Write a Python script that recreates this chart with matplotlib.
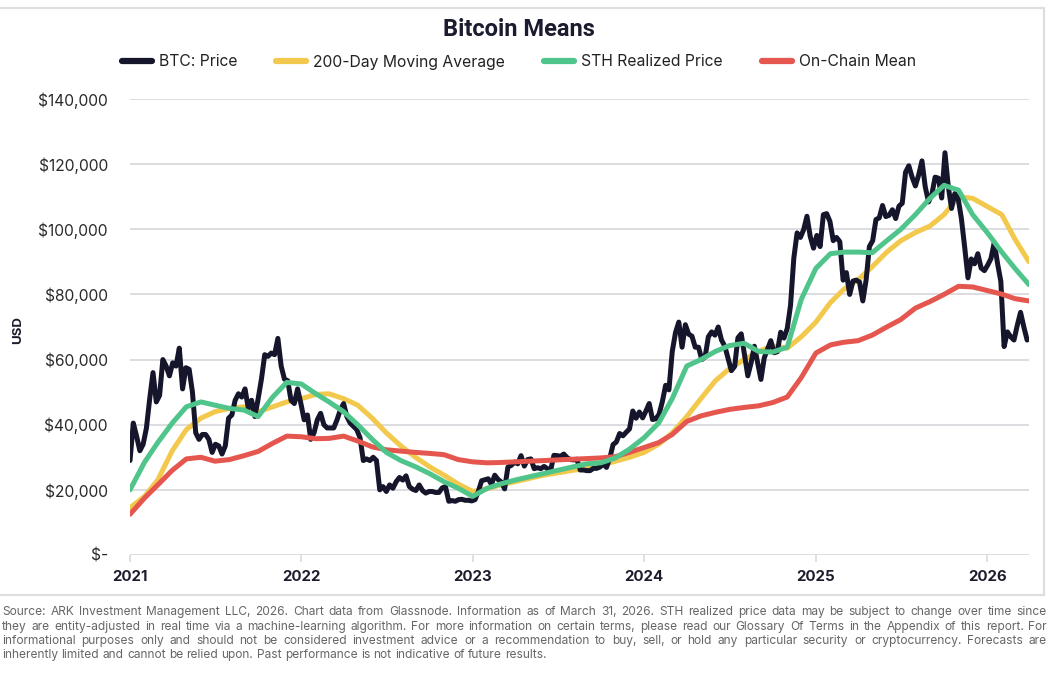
import numpy as np
import pandas as pd
import matplotlib
matplotlib.use("Agg")
from matplotlib import pyplot as plt
from matplotlib.lines import Line2D
from matplotlib.patches import Rectangle
import matplotlib.dates as mdates
import matplotlib.ticker as mticker

# BTC price, thousands USD, one value per week (Fridays from 2021-01-01)
btc_price = [
    # 2021
    29.0, 40.5, 36.5, 32.0, 34.0,
    39.0, 48.0, 56.0, 47.0,
    49.0, 60.0, 58.0, 55.0,
    59.0, 58.0, 63.5, 51.0, 57.5,
    57.0, 50.0, 37.5, 35.5,
    37.0, 37.0, 35.5, 31.5,
    34.0, 33.5, 31.0, 33.5, 42.0,
    43.0, 47.5, 49.5, 48.5,
    51.0, 45.0, 47.5, 42.5,
    48.0, 54.0, 61.5, 61.0, 62.0,
    61.5, 66.5, 58.0, 54.0,
    53.5, 47.5, 46.5, 51.0, 46.5,
    # 2022
    41.5, 43.0, 35.5, 37.5,
    41.5, 43.5, 40.0, 39.0,
    39.0, 39.0, 41.5, 44.5,
    46.5, 42.5, 40.5, 39.5, 38.5,
    36.0, 29.0, 29.5, 29.0,
    30.0, 29.0, 20.0, 21.0,
    19.5, 21.5, 20.5, 22.5, 23.8,
    23.0, 24.3, 21.0, 20.2,
    19.8, 21.5, 19.8, 19.0, 19.5,
    19.5, 19.2, 19.2, 20.6,
    21.0, 16.5, 16.7, 16.5,
    17.0, 17.1, 16.8, 16.8, 16.6,
    # 2023
    17.0, 19.5, 22.8, 23.1,
    23.4, 21.7, 24.5, 23.2,
    22.4, 20.3, 27.0, 27.5, 28.5,
    28.0, 30.5, 27.3, 29.3,
    29.5, 26.5, 26.8, 26.5,
    27.2, 26.5, 26.0, 30.6, 30.5,
    30.3, 31.0, 29.9, 29.3,
    29.2, 29.4, 26.1, 26.1,
    25.9, 25.9, 26.6, 26.6, 27.0,
    27.9, 26.9, 29.7, 33.9,
    34.7, 37.3, 36.6, 37.7,
    38.7, 44.2, 42.0, 43.9, 42.1,
    # 2024
    44.2, 46.5, 41.6, 41.8,
    43.2, 47.1, 52.1, 50.7,
    62.4, 68.3, 71.5, 63.8, 70.7,
    67.8, 67.2, 63.8, 63.8,
    60.0, 60.8, 67.0, 68.5, 67.5,
    70.0, 66.0, 64.1, 60.3,
    56.6, 57.9, 66.7, 67.9,
    61.4, 55.0, 59.0, 64.1, 59.0,
    53.9, 60.5, 63.2, 65.8,
    62.1, 62.4, 68.4, 66.6,
    69.5, 76.6, 91.1, 98.9, 97.5,
    99.9, 104.0, 97.8, 94.2,
    # 2025
    98.1, 94.7, 104.5, 104.8, 102.4,
    96.5, 97.5, 96.2, 84.4,
    86.7, 80.0, 84.1, 84.4,
    83.8, 78.0, 84.4, 94.7,
    96.5, 103.0, 103.5, 107.3, 103.9,
    104.3, 106.0, 103.3, 107.1,
    108.0, 117.5, 119.5, 116.0,
    113.3, 116.7, 121.0, 113.0, 108.4,
    110.7, 116.0, 115.7, 109.6,
    123.5, 113.2, 106.4, 111.0, 109.5,
    103.3, 94.5, 85.1, 90.9,
    89.4, 92.5, 88.1, 87.3,
    # 2026
    89.0, 91.0, 96.0, 89.5, 84.0,
    64.0, 68.5, 67.0, 66.0,
    70.5, 74.5, 70.0, 66.0,
]
price_dates = pd.date_range("2021-01-01", periods=len(btc_price), freq="7D")

# smoother series, thousands USD, first day of each month (last point 2026-03-31)
month_dates = list(pd.date_range("2021-01-01", "2026-03-01", freq="MS")) + [pd.Timestamp("2026-03-31")]

ma_200d = [
    14.5, 18.0, 23.0, 32.0, 38.5, 42.0, 44.0, 45.0, 45.5, 44.0, 45.5, 47.0,
    48.0, 49.3, 49.5, 48.0, 46.0, 42.0, 37.5, 33.5, 30.0, 27.1, 24.5, 21.8,
    19.5, 20.3, 21.5, 22.5, 23.5, 24.5, 25.2, 26.0, 26.5, 27.5, 28.8, 30.0,
    31.5, 34.0, 37.5, 42.5, 48.0, 53.5, 57.2, 60.0, 62.5, 64.2, 63.5, 67.0,
    71.5, 77.5, 81.5, 84.5, 88.5, 93.0, 96.5, 99.0, 101.0, 104.5, 110.0, 109.5,
    107.0, 104.5, 97.0, 90.0,
]

sth_realized = [
    20.0, 28.5, 34.5, 40.5, 45.5, 47.0, 46.0, 45.0, 44.5, 42.5, 48.5, 53.0,
    52.5, 49.5, 47.0, 44.0, 40.0, 35.5, 31.5, 29.0, 27.1, 25.0, 22.5, 20.5,
    18.0, 20.5, 21.8, 23.0, 24.0, 25.0, 26.0, 27.0, 28.0, 28.3, 29.8, 32.5,
    36.0, 40.5, 48.0, 58.0, 60.0, 62.5, 64.3, 65.0, 62.5, 62.3, 63.8, 78.5,
    88.0, 92.5, 93.0, 93.0, 92.8, 96.5, 100.0, 104.5, 109.5, 113.5, 112.0, 104.5,
    99.0, 93.0, 88.0, 83.0,
]

onchain_mean = [
    12.5, 17.5, 21.5, 26.0, 29.5, 30.0, 28.8, 29.3, 30.5, 31.8, 34.3, 36.5,
    36.3, 35.7, 35.8, 36.5, 35.0, 33.2, 32.3, 31.9, 31.5, 31.2, 30.8, 29.3,
    28.6, 28.3, 28.4, 28.6, 28.8, 29.0, 29.2, 29.4, 29.6, 29.8, 30.2, 31.5,
    33.0, 34.5, 37.0, 41.0, 42.7, 43.8, 44.7, 45.3, 45.8, 46.8, 48.5, 54.5,
    62.0, 64.5, 65.3, 65.8, 67.5, 70.0, 72.3, 75.8, 77.8, 80.0, 82.5, 82.3,
    81.2, 80.1, 78.7, 78.0,
]

series_names = ["BTC: Price", "200-Day Moving Average", "STH Realized Price", "On-Chain Mean"]
series_colors = ["#15152c", "#f2c94c", "#4fc48b", "#e4564e"]

note_lines = [
    "Source: ARK Investment Management LLC, 2026. Chart data from Glassnode. Information as of March 31, 2026. "
    "STH realized price data may be subject to change over time since",
    "they are entity-adjusted in real time via a machine-learning algorithm. For more information on certain terms, "
    "please read our Glossary Of Terms in the Appendix of this report. For",
    "informational purposes only and should not be considered investment advice or a recommendation to buy, sell, "
    "or hold any particular security or cryptocurrency. Forecasts are",
    "inherently limited and cannot be relied upon. Past performance is not indicative of future results.",
]

W, H = 1059, 680
fig = plt.figure(figsize=(W / 100, H / 100), dpi=100)
ax = fig.add_axes([130 / W, 1 - 555 / H, 899 / W, 456 / H])

ax.plot(price_dates, np.array(btc_price) * 1000, color=series_colors[0], lw=3.6,
        solid_joinstyle="round", solid_capstyle="round", zorder=3)
ax.plot(month_dates, np.array(ma_200d) * 1000, color=series_colors[1], lw=3.6,
        solid_capstyle="round", zorder=2)
ax.plot(month_dates, np.array(onchain_mean) * 1000, color=series_colors[3], lw=3.6,
        solid_capstyle="round", zorder=4)
ax.plot(month_dates, np.array(sth_realized) * 1000, color=series_colors[2], lw=3.6,
        solid_capstyle="round", zorder=5)

ax.set_ylim(0, 140000)
ax.set_xlim(pd.Timestamp("2021-01-01"), pd.Timestamp("2026-03-31"))
ax.yaxis.set_major_locator(mticker.MultipleLocator(20000))
ax.yaxis.set_major_formatter(mticker.FuncFormatter(lambda v, p: "$-" if v == 0 else f"${v:,.0f}"))
ax.xaxis.set_major_locator(mdates.YearLocator())
ax.xaxis.set_major_formatter(mdates.DateFormatter("%Y"))

ax.grid(axis="y", color="#dadade", lw=1.3)
ax.set_axisbelow(True)
for s in ax.spines.values():
    s.set_visible(False)
ax.tick_params(axis="y", length=0, pad=16, labelsize=11.2, labelcolor="#2a2a2a")
ax.tick_params(axis="x", length=5, width=1.2, color="#dadade", pad=6, labelsize=10.8,
               labelcolor="#1c1c2c")
for lab in ax.get_yticklabels():
    lab.set_family("Inter")
for lab in ax.get_xticklabels():
    lab.set_family("Inter")
    lab.set_fontweight("bold")

fig.text(18 / W, 1 - 330 / H, "USD", rotation=90, ha="center", va="center",
         fontsize=9.5, fontweight="bold", family="Inter", color="#1c1c2c")

fig.text(519 / W, 1 - 30 / H, "Bitcoin Means", ha="center", va="center",
         fontsize=17, fontweight="bold", family="Roboto", color="#1b1b2f")

handles = [Line2D([], [], color=c, lw=4.5, solid_capstyle="round") for c in series_colors]
fig.legend(handles, series_names, loc="center", bbox_to_anchor=(519 / W, 1 - 62 / H), ncol=4,
           frameon=False, prop={"family": "Inter", "size": 11.3}, handlelength=1.9,
           handletextpad=0.45, columnspacing=2.5, labelcolor="#222222")

# light frame around the chart panel
fig.patches.append(Rectangle((-0.01, 1 - 595 / H), 1044 / W + 0.01, (595 - 8) / H,
                             transform=fig.transFigure, fill=False, edgecolor="#dedede", lw=1.6))

# justified footnote below the panel
renderer = fig.canvas.get_renderer()
note_size = 8.6
note_y = [612, 627, 641, 655]
x_left, x_right = 2, 1047
probe_a = fig.text(0, 0, "x x", fontsize=note_size, family="Inter")
probe_b = fig.text(0, 0, "xx", fontsize=note_size, family="Inter")
space_w = probe_a.get_window_extent(renderer).width - probe_b.get_window_extent(renderer).width
probe_a.remove()
probe_b.remove()
for i, (line, yy) in enumerate(zip(note_lines, note_y)):
    words = line.split()
    texts = [fig.text(0, 1 - yy / H, w, fontsize=note_size, family="Inter", color="#666666",
                      va="center") for w in words]
    widths = [t.get_window_extent(renderer).width for t in texts]
    gap = space_w
    if i < len(note_lines) - 1:
        gap = (x_right - x_left - sum(widths)) / (len(words) - 1)
        if gap < space_w * 0.6:
            # shrink the line a little if it does not fit
            scale = (x_right - x_left - space_w * 0.6 * (len(words) - 1)) / sum(widths)
            for t in texts:
                t.set_fontsize(note_size * scale)
            widths = [t.get_window_extent(renderer).width for t in texts]
            gap = (x_right - x_left - sum(widths)) / (len(words) - 1)
    x = x_left
    for t, w in zip(texts, widths):
        t.set_x(x / W)
        x += w + gap

fig.savefig("out.png", dpi=100)
